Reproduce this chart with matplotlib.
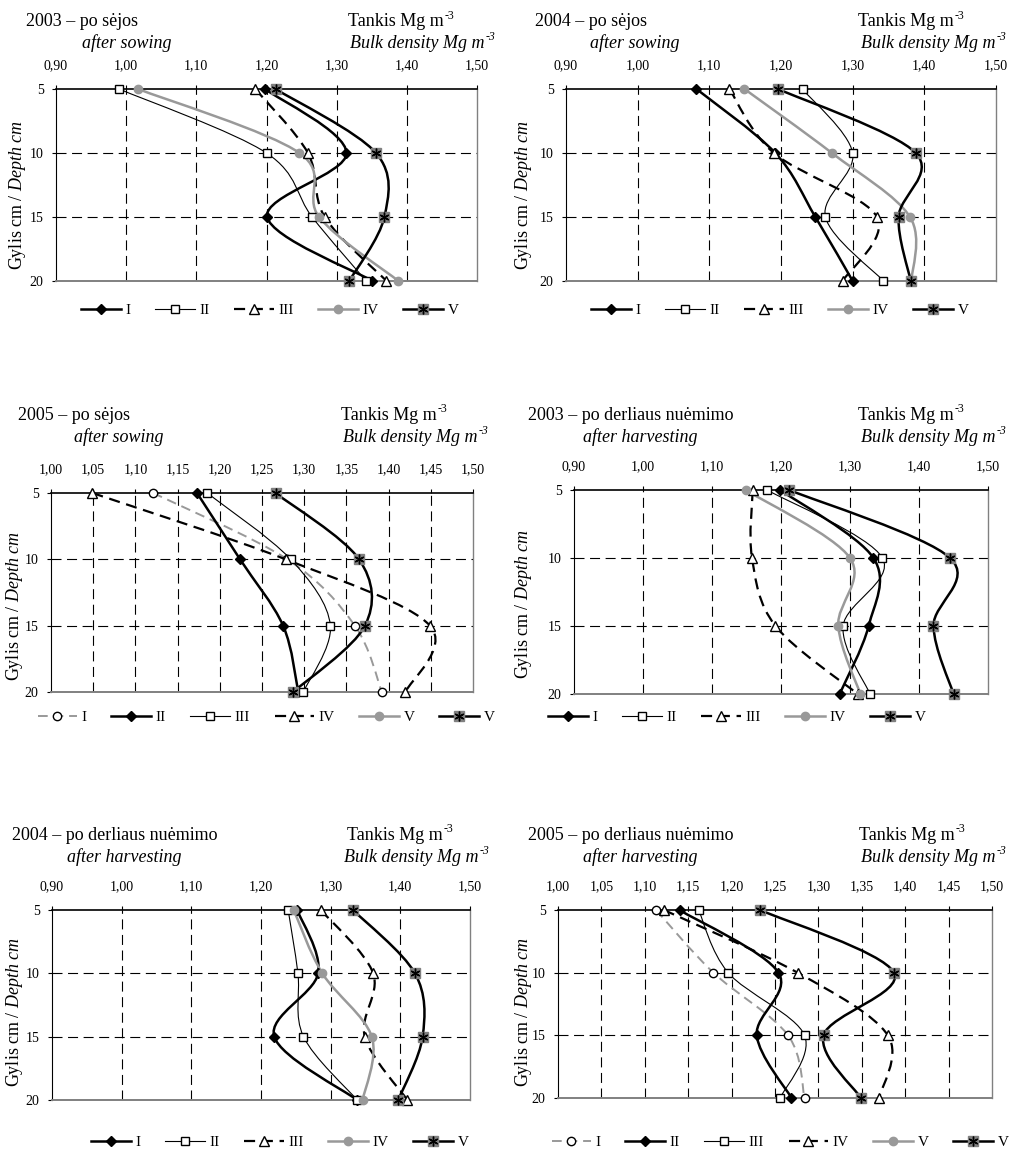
import numpy as np
import matplotlib
matplotlib.use("Agg")
import matplotlib.pyplot as plt
from matplotlib.path import Path
from matplotlib.patches import PathPatch
from matplotlib.lines import Line2D
from matplotlib.text import Annotation
from matplotlib.legend_handler import HandlerTuple

plt.rcParams["font.family"] = "Liberation Serif"
plt.rcParams["mathtext.fontset"] = "custom"
plt.rcParams["mathtext.rm"] = "Liberation Serif"
plt.rcParams["mathtext.it"] = "Liberation Serif:italic"

# --- data: bulk density (Mg m-3) at depths 5, 10, 15, 20 cm ---
depth = [5, 10, 15, 20]
ticks_a = [0.90, 1.00, 1.10, 1.20, 1.30, 1.40, 1.50]
ticks_b = [1.00, 1.05, 1.10, 1.15, 1.20, 1.25, 1.30, 1.35, 1.40, 1.45, 1.50]

# 2003 po sejos
p1_I = [1.198, 1.314, 1.201, 1.351]
p1_II = [0.990, 1.200, 1.265, 1.342]
p1_III = [1.184, 1.259, 1.283, 1.371]
p1_IV = [1.017, 1.247, 1.275, 1.388]
p1_V = [1.213, 1.356, 1.368, 1.318]

# 2004 po sejos
p2_I = [1.082, 1.192, 1.248, 1.300]
p2_II = [1.230, 1.300, 1.262, 1.343]
p2_III = [1.128, 1.190, 1.334, 1.286]
p2_IV = [1.149, 1.271, 1.380, 1.382]
p2_V = [1.196, 1.388, 1.364, 1.381]

# 2005 po sejos
p3_I = [1.121, 1.280, 1.360, 1.392]
p3_II = [1.173, 1.224, 1.275, 1.293]
p3_III = [1.185, 1.284, 1.331, 1.299]
p3_IV = [1.049, 1.278, 1.449, 1.420]
p3_V = [1.266, 1.365, 1.372, 1.287]

# 2003 po derliaus nuemimo
p4_I = [1.199, 1.334, 1.327, 1.285]
p4_II = [1.180, 1.347, 1.290, 1.329]
p4_III = [1.159, 1.158, 1.192, 1.311]
p4_IV = [1.149, 1.300, 1.283, 1.315]
p4_V = [1.212, 1.445, 1.421, 1.450]

# 2004 po derliaus nuemimo
p5_I = [1.252, 1.282, 1.219, 1.338]
p5_II = [1.239, 1.253, 1.261, 1.338]
p5_III = [1.286, 1.361, 1.349, 1.410]
p5_IV = [1.247, 1.288, 1.359, 1.346]
p5_V = [1.332, 1.421, 1.432, 1.397]

# 2005 po derliaus nuemimo
p6_I = [1.113, 1.179, 1.265, 1.284]
p6_II = [1.140, 1.254, 1.229, 1.269]
p6_III = [1.162, 1.196, 1.284, 1.256]
p6_IV = [1.122, 1.276, 1.380, 1.370]
p6_V = [1.233, 1.387, 1.306, 1.349]

# --- styles (Excel look) ---
GRAY = "#999999"
DGRAY = "#808080"
styles = {
    "diamond": dict(color="black", lw=1.8, ls="-", marker="D", mfc="black", mec="black", ms=5),
    "square": dict(color="black", lw=0.8, ls="-", marker="s", mfc="white", mec="black", ms=6),
    "triangle": dict(color="black", lw=1.6, ls=(0, (5, 3)), marker="^", mfc="white", mec="black", ms=7),
    "gray": dict(color=GRAY, lw=1.8, ls="-", marker="o", mfc=GRAY, mec=GRAY, ms=6),
    "star": dict(color="black", lw=1.8, ls="-", marker="s", mfc=DGRAY, mec=DGRAY, ms=7.5),
    "circle": dict(color=GRAY, lw=1.4, ls=(0, (5, 3)), marker="o", mfc="white", mec="black", ms=6),
}
ASTER = (6, 2, 0)

W, H = 1013, 1151


def fx(px):
    return px / W


def fy(py):
    return 1 - py / H


def smooth_path(x, y):
    # Excel-like smoothed line: Catmull-Rom segments as cubic Beziers
    pts = np.column_stack([x, y]).astype(float)
    n = len(pts)
    verts = [pts[0]]
    codes = [Path.MOVETO]
    for i in range(n - 1):
        p0 = pts[max(i - 1, 0)]
        p1 = pts[i]
        p2 = pts[i + 1]
        p3 = pts[min(i + 2, n - 1)]
        verts += [p1 + (p2 - p0) / 6, p2 - (p3 - p1) / 6, p2]
        codes += [Path.CURVE4] * 3
    return Path(verts, codes)


def legend_handle(key):
    st = styles[key]
    h = Line2D([], [], color=st["color"], lw=st["lw"], ls=st["ls"], marker=st["marker"],
               mfc=st["mfc"], mec=st["mec"], ms=st["ms"])
    if key == "star":
        a = Line2D([], [], ls="none", marker=ASTER, color="black", ms=7, mew=1.0)
        return (h, a)
    return h


def unit_text(x, y, text, italic=False):
    # "Mg m" followed by a small raised "-3"
    style = "italic" if italic else "normal"
    t = fig.text(fx(x), fy(y), text, fontsize=13, ha="left", va="center", style=style)
    sup = Annotation("-3", xy=(1, 1), xycoords=t, xytext=(0.5, 2.5), textcoords="offset points",
                     fontsize=8.5, ha="left", va="top", style=style)
    fig.add_artist(sup)


std_keys = ["diamond", "square", "triangle", "gray", "star"]
std_labels = ["I", "II", "III", "IV", "V"]
alt_keys = ["circle", "diamond", "square", "triangle", "gray", "star"]
alt_labels = ["I", "II", "III", "IV", "V", "V"]

panels = [
    dict(box=(56, 89, 477, 281), ticks=ticks_a, series=[p1_I, p1_II, p1_III, p1_IV, p1_V],
         keys=std_keys, labels=std_labels, lkeys=std_keys,
         t1="2003 – po sėjos", t2="after sowing", tx=(26, 82), trow=(22, 43), tank=(348, 350),
         ylab=(18, 195), leg=(270, 310)),
    dict(box=(566, 89, 996, 281), ticks=ticks_a, series=[p2_I, p2_II, p2_III, p2_IV, p2_V],
         keys=std_keys, labels=std_labels, lkeys=std_keys,
         t1="2004 – po sėjos", t2="after sowing", tx=(535, 590), trow=(22, 43), tank=(858, 861),
         ylab=(523, 195), leg=(780, 310)),
    dict(box=(51, 493, 473, 692), ticks=ticks_b, series=[p3_I, p3_II, p3_III, p3_IV, p3_V],
         keys=["circle", "diamond", "square", "triangle", "star"], labels=alt_labels, lkeys=alt_keys,
         t1="2005 – po sėjos", t2="after sowing", tx=(18, 74), trow=(415, 437), tank=(341, 343),
         ylab=(15, 606), leg=(266, 717)),
    dict(box=(574, 490, 988, 694), ticks=ticks_a, series=[p4_I, p4_II, p4_III, p4_IV, p4_V],
         keys=std_keys, labels=std_labels, lkeys=std_keys,
         t1="2003 – po derliaus nuėmimo", t2="after harvesting", tx=(528, 583), trow=(415, 437),
         tank=(858, 861), ylab=(523, 604), leg=(737, 717)),
    dict(box=(52, 910, 470, 1100), ticks=ticks_a, series=[p5_I, p5_II, p5_III, p5_IV, p5_V],
         keys=std_keys, labels=std_labels, lkeys=std_keys,
         t1="2004 – po derliaus nuėmimo", t2="after harvesting", tx=(12, 67), trow=(835, 857),
         tank=(347, 344), ylab=(15, 1012), leg=(280, 1142)),
    dict(box=(558, 910, 992, 1098), ticks=ticks_b, series=[p6_I, p6_II, p6_III, p6_IV, p6_V],
         keys=["circle", "diamond", "square", "triangle", "star"], labels=alt_labels, lkeys=alt_keys,
         t1="2005 – po derliaus nuėmimo", t2="after harvesting", tx=(528, 583), trow=(835, 857),
         tank=(859, 861), ylab=(523, 1012), leg=(780, 1142)),
]

fig = plt.figure(figsize=(W / 100, H / 100), dpi=100)

for p in panels:
    l, t, r, b = p["box"]
    ax = fig.add_axes([fx(l), fy(b), (r - l) / W, (b - t) / H])
    ticks = p["ticks"]
    ax.set_xlim(ticks[0], ticks[-1])
    ax.set_ylim(20, 5)
    ax.xaxis.tick_top()
    ax.set_xticks(ticks)
    ax.set_xticklabels([f"{v:.2f}".replace(".", ",") for v in ticks])
    ax.set_yticks(depth)
    ax.tick_params(axis="x", top=True, bottom=False, labeltop=True, labelbottom=False,
                   direction="out", length=3, pad=9, labelsize=10, width=0.8)
    ax.tick_params(axis="y", direction="out", length=3, pad=6, labelsize=10, width=0.8)

    for v in ticks[1:-1]:
        ax.axvline(v, color="black", lw=0.8, ls=(0, (9, 5)), zorder=1)
    for d in depth[1:-1]:
        ax.axhline(d, color="black", lw=0.8, ls=(0, (9, 5)), zorder=1)

    ax.spines["top"].set(color="black", lw=1.2)
    ax.spines["left"].set(color="black", lw=0.8)
    ax.spines["right"].set(color=DGRAY, lw=1.0)
    ax.spines["bottom"].set(color=DGRAY, lw=1.4)

    for i, (vals, key) in enumerate(zip(p["series"], p["keys"])):
        st = styles[key]
        patch = PathPatch(smooth_path(vals, depth), fill=False, edgecolor=st["color"],
                          lw=st["lw"], ls=st["ls"], zorder=2 + i * 0.01, clip_on=False)
        ax.add_patch(patch)
        ax.plot(vals, depth, ls="none", marker=st["marker"], mfc=st["mfc"], mec=st["mec"],
                ms=st["ms"], zorder=4 + i * 0.01, clip_on=False)
        if key == "star":
            ax.plot(vals, depth, ls="none", marker=ASTER, color="black", ms=7, mew=1.0,
                    zorder=4.5, clip_on=False)

    # titles
    x1, x2 = p["tx"]
    y1, y2 = p["trow"]
    tk1, tk2 = p["tank"]
    fig.text(fx(x1), fy(y1), p["t1"], fontsize=13, ha="left", va="center")
    fig.text(fx(x2), fy(y2), p["t2"], fontsize=13, ha="left", va="center", style="italic")
    unit_text(tk1, y1, "Tankis Mg m")
    unit_text(tk2, y2, "Bulk density Mg m", italic=True)
    lx, ly = p["ylab"]
    fig.text(fx(lx), fy(ly), r"Gylis cm / $\it{Depth}$ $\it{cm}$", fontsize=13,
             rotation=90, ha="center", va="center")

    handles = [legend_handle(k) for k in p["lkeys"]]
    cx, cy = p["leg"]
    fig.legend(handles, p["labels"], loc="center", bbox_to_anchor=(fx(cx), fy(cy)),
               ncol=len(handles), frameon=False, fontsize=11, handlelength=2.6,
               handletextpad=0.3, columnspacing=1.6,
               handler_map={tuple: HandlerTuple(ndivide=1)})

fig.savefig("out.png", dpi=100)
